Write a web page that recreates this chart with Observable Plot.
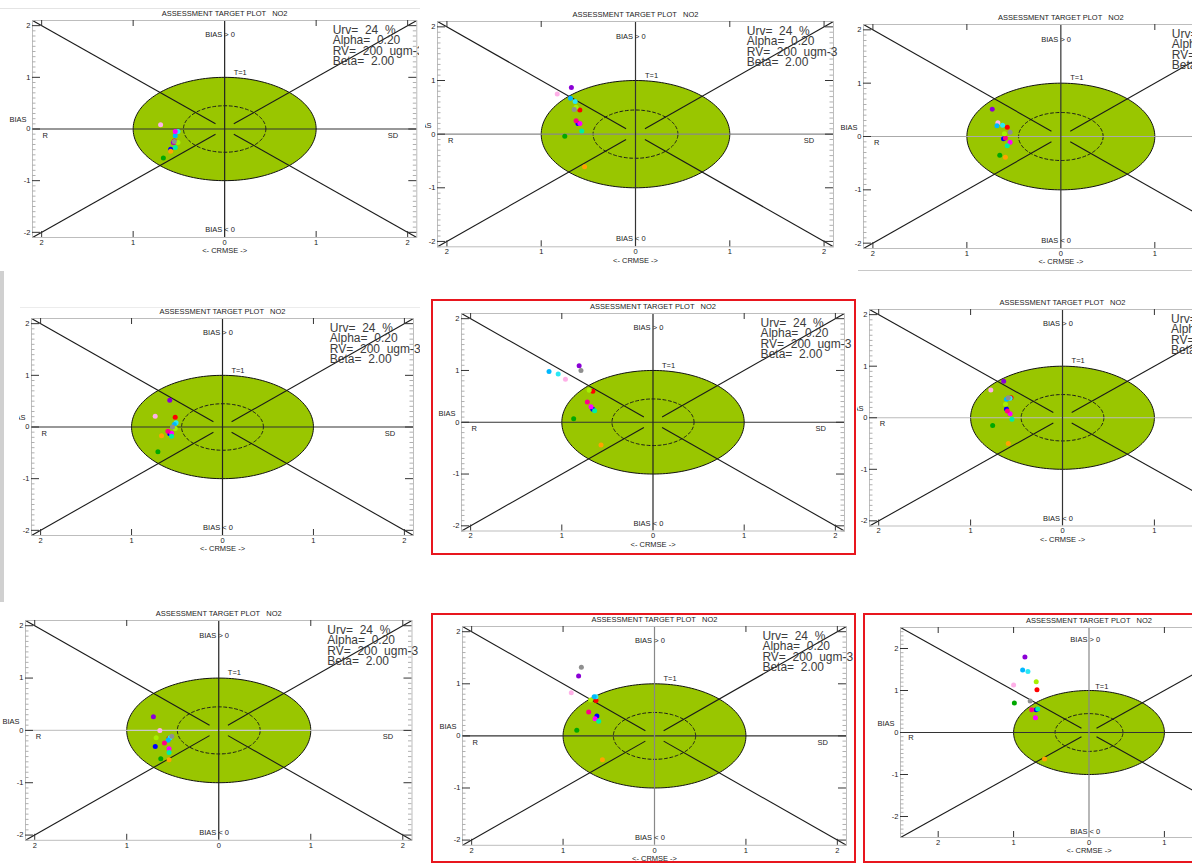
<!DOCTYPE html>
<html>
<head>
<meta charset="utf-8">
<script src="https://cdn.jsdelivr.net/npm/d3@7"></script>
<script src="https://cdn.jsdelivr.net/npm/@observablehq/plot@0.6"></script>
<style>
  html, body { margin: 0; padding: 0; background: #fff; }
  #page { position: relative; width: 1192px; height: 863px; overflow: hidden; background: #fff;
          font-family: "Liberation Sans", Arial, sans-serif; }
  .panel { position: absolute; overflow: hidden; background: #fff; }
  .panel svg { position: absolute; overflow: visible; max-width: none !important; }
  svg text { white-space: pre; }
  .redbox { position: absolute; border: 2px solid #e8161e; box-sizing: border-box; pointer-events: none; }
  .rule { position: absolute; }
</style>
</head>
<body>
<div id="page"></div>
<script>
// One colour per monitoring station, same order in every run.
const stationColors = ["#8b00d6", "#ffb0e8", "#ff0000", "#2ae8f5", "#00b8ff", "#0000ff", "#ff00ff",
                       "#ff0088", "#00a800", "#ffa200", "#a6f000", "#8f8f8f", "#00f0a0"];

// Normalised CRMSE (signed: negative = R side) and normalised BIAS for each run.
const crmse1 = [-0.56, -0.70, -0.55, -0.51, -0.54, -0.59, -0.54, -0.55, -0.67, -0.59, -0.51, -0.55, -0.54];
const bias1  = [-0.26,  0.08, -0.23, -0.05, -0.13, -0.39, -0.05, -0.25, -0.56, -0.43, -0.26, -0.24, -0.36];

const crmse2 = [-0.68, -0.83, -0.59, -0.64, -0.69, -0.61, -0.59, -0.63, -0.75, -0.54, -0.63, -0.65, -0.57];
const bias2  = [ 0.87,  0.75,  0.45,  0.61,  0.67,  0.20,  0.20,  0.25, -0.04, -0.61,  0.50,  0.46,  0.06];

const crmse3 = [-0.73, -0.67, -0.57, -0.62, -0.68, -0.61, -0.54, -0.59, -0.65, -0.59, -0.60, -0.54, -0.57];
const bias3  = [ 0.51,  0.26,  0.175, 0.21,  0.20, -0.04, -0.11, -0.03, -0.35, -0.39,  0.05,  0.08, -0.175];

const crmse4 = [-0.58, -0.74, -0.52, -0.51, -0.53, -0.58, -0.56, -0.60, -0.71, -0.67, -0.52, -0.55, -0.56];
const bias4  = [ 0.52,  0.21,  0.19,  0.08,  0.05, -0.13, -0.12, -0.08, -0.48, -0.17, -0.03,  0.00, -0.18];

const crmse5 = [-0.81, -0.96, -0.66, -1.04, -1.14, -0.66, -0.68, -0.72, -0.87, -0.57, -0.70, -0.79, -0.64];
const bias5  = [ 1.09,  0.83,  0.60,  0.93,  0.98,  0.25,  0.30,  0.39,  0.07, -0.44,  0.62,  1.00,  0.22];

const crmse6 = [-0.64, -0.78, -0.56, -0.57, -0.61, -0.61, -0.57, -0.60, -0.76, -0.59, -0.62, -0.59, -0.55];
const bias6  = [ 0.71,  0.54,  0.39,  0.38,  0.36,  0.17,  0.08,  0.13, -0.15, -0.50,  0.26,  0.39, -0.03];

const crmse7 = [-0.71, -0.64, -0.54, -0.53, -0.55, -0.69, -0.54, -0.59, -0.63, -0.54, -0.68, -0.51, -0.54];
const bias7  = [ 0.26,  0.00, -0.15, -0.14, -0.19, -0.31, -0.35, -0.24, -0.54, -0.56, -0.14, -0.11, -0.42];

const crmse8 = [-0.83, -0.91, -0.64, -0.64, -0.66, -0.63, -0.65, -0.72, -0.85, -0.57, -0.70, -0.80, -0.61];
const bias8  = [ 1.15,  0.83,  0.68,  0.75,  0.75,  0.38,  0.33,  0.46,  0.11, -0.46,  0.69,  1.32,  0.28];

const crmse9 = [-0.85, -1.00, -0.69, -0.81, -0.88, -0.70, -0.71, -0.76, -0.99, -0.59, -0.70, -0.78, -0.68];
const bias9  = [ 1.80,  1.13,  1.02,  1.45,  1.49,  0.54,  0.35,  0.54,  0.70, -0.63,  1.21,  0.75,  0.56];

// Axis ticks and text
const majorTicks = [-2, -1, 0, 1, 2];
const titleText = "ASSESSMENT TARGET PLOT   NO2";
const paramLines = ["Urv=  24  %", "Alpha=  0.20", "RV=  200  ugm-3", "Beta=  2.00"];
const targetRadius = 1;      // T = 1 target
const innerRadius = 0.45;    // inner dashed ring
const diagGap = 0.1;         // diagonals stop short of the origin
const targetGreen = "#99c600";

// Where each run's target diagram sits on the sheet (frame box and visible window).
const panels = [
  { crmse: crmse1, bias: bias1, lim: 2.1, frame: { l: 32.2, t: 20, r: 416.5, b: 237 },
    clip: { x: 0, y: 9, w: 419, h: 262 }, hLine: "#333", vLine: "#222" },
  { crmse: crmse2, bias: bias2, lim: 2.1, frame: { l: 436.7, t: 20.5, r: 832.7, b: 245.8 },
    clip: { x: 425, y: 0, w: 414, h: 270 }, hLine: "#888", vLine: "#333" },
  { crmse: crmse3, bias: bias3, lim: 2.1, frame: { l: 863.3, t: 24, r: 1258, b: 248 },
    clip: { x: 840, y: 0, w: 352, h: 269 }, hLine: "#aaa", vLine: "#333" },
  { crmse: crmse4, bias: bias4, lim: 2.1, frame: { l: 31, t: 318, r: 413, b: 535 },
    clip: { x: 19, y: 309, w: 401, h: 242 }, hLine: "#333", vLine: "#222" },
  { crmse: crmse5, bias: bias5, lim: 2.1, frame: { l: 461, t: 312.5, r: 844, b: 530 },
    clip: { x: 433, y: 301, w: 421, h: 251 }, hLine: "#333", vLine: "#222" },
  { crmse: crmse6, bias: bias6, lim: 2.1, frame: { l: 869, t: 309, r: 1255, b: 525.5 },
    clip: { x: 857, y: 290, w: 335, h: 262 }, hLine: "#bbb", vLine: "#333" },
  { crmse: crmse7, bias: bias7, lim: 2.1, frame: { l: 25, t: 619.6, r: 411.5, b: 839.4 },
    clip: { x: 0, y: 606, w: 421, h: 245 }, hLine: "#c8c8c8", vLine: "#222" },
  { crmse: crmse8, bias: bias8, lim: 2.1, frame: { l: 462, t: 625.6, r: 846, b: 844.4 },
    clip: { x: 433, y: 616, w: 421, h: 245 }, hLine: "#333", vLine: "#888" },
  { crmse: crmse9, bias: bias9, lim: 2.5, frame: { l: 900, t: 626.7, r: 1277, b: 836.7 },
    clip: { x: 865, y: 616, w: 327, h: 245 }, hLine: "#333", vLine: "#888" }
];

const redBoxes = [
  { x: 431, y: 299, w: 425, h: 256 },
  { x: 431, y: 613, w: 425, h: 250 },
  { x: 863, y: 613, w: 335, h: 250 }
];

const sheetRules = [
  { x: 0, y: 8, w: 420, h: 1, c: "#e4e4e4" },
  { x: 20, y: 307, w: 400, h: 1, c: "#ececec" },
  { x: 858, y: 270, w: 334, h: 1, c: "#c8c8c8" },
  { x: 404, y: 258, w: 1, h: 12, c: "#999" },
  { x: 0, y: 212, w: 4, h: 390, c: "#d0d0d0" }
];

const page = document.getElementById("page");
const angles = d3.range(0, 361, 2).map(a => a * Math.PI / 180);
const ring = r => angles.map(a => ({ x: r * Math.cos(a), y: r * Math.sin(a) }));

function drawPanel(p) {
  const { lim, frame, clip } = p;
  const m = { l: 44, r: 12, t: 22, b: 26 };
  const fw = frame.r - frame.l, fh = frame.b - frame.t;
  const ux = fw / (2 * lim), uy = fh / (2 * lim);
  const W = fw + m.l + m.r, H = fh + m.t + m.b;

  const pts = p.crmse.map((c, i) => ({ crmse: c, bias: p.bias[i], color: stationColors[i] }));
  const diagonals = [[-1, 1], [1, 1], [-1, -1], [1, -1]].map(([sx, sy]) =>
    ({ x1: sx * diagGap, y1: sy * diagGap, x2: sx * lim, y2: sy * lim }));
  const k = Math.floor(lim * 10 + 1e-9);
  const minor = d3.range(-k, k + 1).filter(v => v % 10 !== 0).map(v => v / 10);
  const xMajor = majorTicks.filter(v => v !== 0);

  const edgeY = (vals, len, stroke) => [
    Plot.ruleY(vals, { y: d => d, x1: -lim, x2: -lim + len / ux, stroke, strokeWidth: 1 }),
    Plot.ruleY(vals, { y: d => d, x1: lim - len / ux, x2: lim, stroke, strokeWidth: 1 })
  ];
  const edgeX = (vals, len, stroke) => [
    Plot.ruleX(vals, { x: d => d, y1: -lim, y2: -lim + len / uy, stroke, strokeWidth: 1 }),
    Plot.ruleX(vals, { x: d => d, y1: lim - len / uy, y2: lim, stroke, strokeWidth: 1 })
  ];

  const chart = Plot.plot({
    width: W,
    height: H,
    marginLeft: m.l, marginRight: m.r, marginTop: m.t, marginBottom: m.b,
    style: { fontFamily: "Liberation Sans, Arial, sans-serif", fontSize: "7.5px", background: "transparent", overflow: "visible" },
    x: { domain: [-lim, lim] },
    y: { domain: [-lim, lim] },
    color: { type: "identity" },
    marks: [
      // target zone and inner ring
      Plot.line(ring(targetRadius), { x: "x", y: "y", fill: targetGreen, stroke: "#111", strokeWidth: 1 }),
      Plot.line(ring(innerRadius), { x: "x", y: "y", stroke: "#1a1a1a", strokeWidth: 1, strokeDasharray: "3,2.5" }),
      // quadrant axes
      Plot.ruleY([0], { stroke: p.hLine, strokeWidth: 1.2 }),
      Plot.ruleX([0], { stroke: p.vLine, strokeWidth: 1.2 }),
      // R / SD dividing diagonals
      Plot.link(diagonals, { x1: "x1", y1: "y1", x2: "x2", y2: "y2", stroke: "#1a1a1a", strokeWidth: 1.1 }),
      // frame and tick marks on all four sides
      Plot.frame({ stroke: "#bdbdbd" }),
      ...edgeY(minor, 3.5, "#b0b0b0"),
      ...edgeY(majorTicks, 8, "#333"),
      ...edgeX(xMajor, 6, "#333"),
      Plot.axisY({ ticks: majorTicks, tickSize: 0, tickPadding: 2, tickFormat: d => String(d), label: null, fontSize: 7.5, fill: "#222" }),
      Plot.axisX({ ticks: majorTicks, tickSize: 0, tickPadding: 2, tickFormat: d => String(Math.abs(d)), label: null, fontSize: 7.5, fill: "#222" }),
      // labels
      Plot.text([titleText], { text: d => d, frameAnchor: "top", dy: -6.5, lineAnchor: "middle", fontSize: 7.5, fill: "#222" }),
      Plot.text([{ t: "BIAS > 0", x: -0.05, y: lim - 0.28 }], { x: "x", y: "y", text: "t", fontSize: 7.5, fill: "#222" }),
      Plot.text([{ t: "BIAS < 0", x: -0.05, y: -lim + 0.15 }], { x: "x", y: "y", text: "t", fontSize: 7.5, fill: "#222" }),
      Plot.text([{ t: "T=1", x: 0.17, y: 1.1 }], { x: "x", y: "y", text: "t", fontSize: 7.5, fill: "#222" }),
      Plot.text([{ t: "R", x: -lim + 0.14, y: -0.12 }], { x: "x", y: "y", text: "t", fontSize: 7.5, fill: "#222" }),
      Plot.text([{ t: "SD", x: lim - 0.26, y: -0.12 }], { x: "x", y: "y", text: "t", fontSize: 7.5, fill: "#222" }),
      Plot.text([{ t: "BIAS", y: 9 / uy }], { y: "y", text: "t", frameAnchor: "left", dx: -6, textAnchor: "end", fontSize: 7.5, fill: "#222" }),
      Plot.text([{ t: "<- CRMSE ->", x: 0 }], { x: "x", text: "t", frameAnchor: "bottom", dy: 13.5, lineAnchor: "middle", fontSize: 7.5, fill: "#222" }),
      // run parameters block, one text with four lines
      Plot.text([{ t: paramLines.join("\n"), x: lim * 0.562, y: lim * 0.919 }],
        { x: "x", y: "y", text: "t", textAnchor: "start", lineAnchor: "top", dy: -3, lineHeight: 0.87, fontSize: 12, fill: "#3c3c3c" }),
      // stations
      Plot.dot(pts, { x: "crmse", y: "bias", fill: "color", r: 2.5 })
    ]
  });

  const holder = document.createElement("div");
  holder.className = "panel";
  Object.assign(holder.style, { left: clip.x + "px", top: clip.y + "px", width: clip.w + "px", height: clip.h + "px" });
  Object.assign(chart.style, {
    left: (frame.l - m.l - clip.x) + "px",
    top: (frame.t - m.t - clip.y) + "px",
    width: W + "px",
    height: H + "px",
    maxWidth: "none"
  });
  holder.appendChild(chart);
  page.appendChild(holder);
}

sheetRules.forEach(r => {
  const d = document.createElement("div");
  d.className = "rule";
  Object.assign(d.style, { left: r.x + "px", top: r.y + "px", width: r.w + "px", height: r.h + "px", background: r.c });
  page.appendChild(d);
});

panels.forEach(drawPanel);

redBoxes.forEach(b => {
  const d = document.createElement("div");
  d.className = "redbox";
  Object.assign(d.style, { left: b.x + "px", top: b.y + "px", width: b.w + "px", height: b.h + "px" });
  page.appendChild(d);
});
</script>
</body>
</html>
